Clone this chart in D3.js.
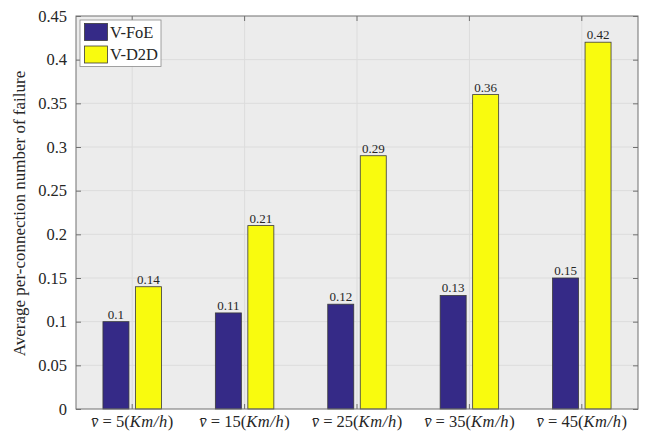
<!DOCTYPE html>
<html>
<head>
<meta charset="utf-8">
<script src="https://cdn.jsdelivr.net/npm/d3@7"></script>
<style>
  html, body { margin: 0; padding: 0; background: #fff; }
  svg { display: block; }
  text { font-family: "Liberation Serif", "DejaVu Serif", serif; fill: #262626; }
</style>
</head>
<body>
<svg id="chart" width="645" height="431"></svg>
<script>
// Mean vehicle speeds (km/h) forming the groups on the x axis
const speeds = [5, 15, 25, 35, 45];
// Series names and their values per speed
const seriesNames = ["V-FoE", "V-D2D"];
const vFoE = [0.10, 0.11, 0.12, 0.13, 0.15];
const vD2D = [0.14, 0.21, 0.29, 0.36, 0.42];
const valueLabels = [["0.1", "0.11", "0.12", "0.13", "0.15"], ["0.14", "0.21", "0.29", "0.36", "0.42"]];
const yTicks = [0, 0.05, 0.1, 0.15, 0.2, 0.25, 0.3, 0.35, 0.4, 0.45];
const yTickLabels = ["0", "0.05", "0.1", "0.15", "0.2", "0.25", "0.3", "0.35", "0.4", "0.45"];
const colors = ["#352a87", "#f9fb0e"];
const yTitle = "Average per-connection number of failure";

const series = [vFoE, vD2D];

const margin = { left: 76, right: 7, top: 16, bottom: 22 };
const W = 645, H = 431;
const svg = d3.select("#chart");
const iw = W - margin.left - margin.right;
const ih = H - margin.top - margin.bottom;

const x = d3.scaleBand().domain(speeds).range([0, iw]).paddingInner(0).paddingOuter(0);
const y = d3.scaleLinear().domain([0, 0.45]).range([ih, 0]);

const g = svg.append("g").attr("transform", `translate(${margin.left},${margin.top})`);

// Plot background
g.append("rect").attr("width", iw).attr("height", ih).attr("fill", "#ececec");

// Grid lines
g.append("g").selectAll("line").data(yTicks.slice(1, -1)).join("line")
  .attr("x1", 0).attr("x2", iw)
  .attr("y1", d => y(d)).attr("y2", d => y(d))
  .attr("stroke", "#dcdcdc").attr("stroke-width", 1);
g.append("g").selectAll("line").data(speeds).join("line")
  .attr("x1", d => x(d) + x.bandwidth() / 2).attr("x2", d => x(d) + x.bandwidth() / 2)
  .attr("y1", 0).attr("y2", ih)
  .attr("stroke", "#dcdcdc").attr("stroke-width", 1);

// Bars within each group
const barW = 26, gap = 6.5;
const offsets = [-(gap / 2 + barW), gap / 2];
series.forEach((vals, si) => {
  const bars = g.append("g");
  bars.selectAll("rect").data(vals).join("rect")
    .attr("x", (d, i) => x(speeds[i]) + x.bandwidth() / 2 + offsets[si])
    .attr("y", d => y(d))
    .attr("width", barW)
    .attr("height", d => ih - y(d))
    .attr("fill", colors[si])
    .attr("stroke", "#3a3a3a").attr("stroke-width", 0.8);
  bars.selectAll("text").data(vals).join("text")
    .attr("x", (d, i) => x(speeds[i]) + x.bandwidth() / 2 + offsets[si] + barW / 2)
    .attr("y", d => y(d) - 3)
    .attr("text-anchor", "middle")
    .attr("font-size", 13)
    .text((d, i) => valueLabels[si][i]);
});

// Axes box and inward ticks
const axisColor = "#707070";
g.append("rect").attr("width", iw).attr("height", ih)
  .attr("fill", "none").attr("stroke", axisColor).attr("stroke-width", 1);

const yAxisL = d3.axisLeft(y).tickValues(yTicks).tickSizeInner(-5).tickSizeOuter(0).tickPadding(9)
  .tickFormat((d, i) => yTickLabels[i]);
const yAx = g.append("g").call(yAxisL);
yAx.select(".domain").remove();
yAx.selectAll("line").attr("stroke", axisColor);
yAx.selectAll("text").attr("font-size", 16.5).attr("font-family", "Liberation Serif, serif").attr("fill", "#262626");

const yAxisR = d3.axisRight(y).tickValues(yTicks).tickSizeInner(-5).tickSizeOuter(0).tickFormat("");
const yAxR = g.append("g").attr("transform", `translate(${iw},0)`).call(yAxisR);
yAxR.select(".domain").remove();
yAxR.selectAll("line").attr("stroke", axisColor);

const xAxisB = d3.axisBottom(x).tickSizeInner(-5).tickSizeOuter(0).tickFormat("");
const xAxB = g.append("g").attr("transform", `translate(0,${ih})`).call(xAxisB);
xAxB.select(".domain").remove();
xAxB.selectAll("line").attr("stroke", axisColor);
const xAxisT = d3.axisTop(x).tickSizeInner(-5).tickSizeOuter(0).tickFormat("");
const xAxT = g.append("g").call(xAxisT);
xAxT.select(".domain").remove();
xAxT.selectAll("line").attr("stroke", axisColor);

// Category labels: v̄ = N(Km/h)
const xl = g.append("g").selectAll("text").data(speeds).join("text")
  .attr("x", d => x(d) + x.bandwidth() / 2)
  .attr("y", ih + 18)
  .attr("text-anchor", "middle")
  .attr("font-size", 16.5);
xl.append("tspan").attr("font-style", "italic").text("v\u0304");
xl.append("tspan").text(d => " = " + d + "(");
xl.append("tspan").attr("font-style", "italic").attr("letter-spacing", 0.6).text("Km/h");
xl.append("tspan").text(")");

// Y axis title
svg.append("text")
  .attr("transform", `translate(21,${margin.top + ih / 2 + 1}) rotate(-90)`)
  .attr("text-anchor", "middle")
  .attr("dominant-baseline", "middle")
  .attr("font-size", 17)
  .text(yTitle);

// Legend
const lg = svg.append("g").attr("transform", "translate(80,20)");
lg.append("rect").attr("width", 81).attr("height", 46.5)
  .attr("fill", "#fff").attr("stroke", "#8a8a8a").attr("stroke-width", 0.8);
seriesNames.forEach((name, i) => {
  lg.append("rect").attr("x", 4.5).attr("y", 3.5 + i * 22.5).attr("width", 23).attr("height", 17)
    .attr("fill", colors[i]).attr("stroke", "#3a3a3a").attr("stroke-width", 0.8);
  lg.append("text").attr("x", 30).attr("y", 17.5 + i * 22.5).attr("font-size", 16.5).text(name);
});
</script>
</body>
</html>
